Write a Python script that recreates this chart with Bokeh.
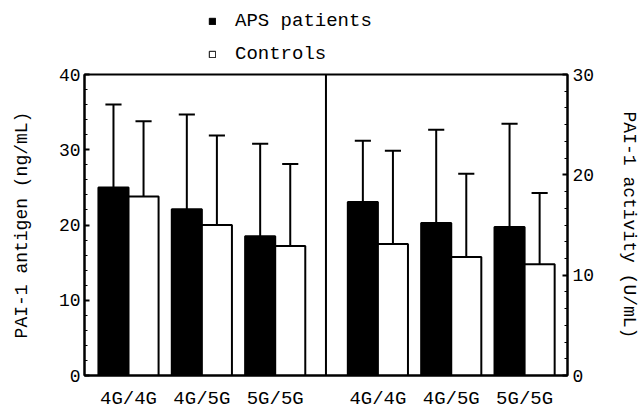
from bokeh.plotting import figure
from bokeh.layouts import column
from bokeh.models import (Range1d, LinearAxis, SingleIntervalTicker, FixedTicker,
                          Span, Legend, LegendItem)
from bokeh.embed import file_html
from bokeh.resources import INLINE

# ---- data ----
genotypes = ["4G/4G", "4G/5G", "5G/5G"]
antigen_aps = [25.0, 22.1, 18.5]        # ng/mL
antigen_aps_sd = [11.0, 12.6, 12.3]
antigen_ctrl = [23.8, 20.0, 17.2]
antigen_ctrl_sd = [10.0, 11.9, 10.9]
activity_aps = [17.3, 15.2, 14.8]       # U/mL
activity_aps_sd = [6.1, 9.3, 10.3]
activity_ctrl = [13.1, 11.8, 11.1]
activity_ctrl_sd = [9.3, 8.3, 7.1]
series_names = ["APS patients", "Controls"]
left_ticks = [0, 10, 20, 30, 40]
right_ticks = [0, 10, 20, 30]

# ---- layout constants ----
FONT = "Liberation Mono"
FS = "18px"
FS_X = "19px"
W = 642
LEG_H = 66
MAIN_H = 346
left_pos = [0.6, 1.6, 2.6]
right_pos = [4.0, 5.0, 6.0]
divider = 3.292
BW = 0.41
CAP = 0.11

# ---------------- legend strip (top) ----------------
# the strip's ranges lie far from the data, so its bars stay out of view:
# they only provide the legend swatches
top = figure(width=W, height=LEG_H, output_backend="svg", toolbar_location=None,
             x_range=Range1d(1000, 1001), y_range=Range1d(1000, 1001),
             min_border=0, outline_line_color=None)
top.axis.visible = False
top.grid.visible = False
top.border_fill_color = "white"
lr_aps = top.vbar(x=left_pos, top=antigen_aps, bottom=0, width=BW,
                  fill_color="black", line_color="black", line_width=1)
lr_ctrl = top.vbar(x=left_pos, top=antigen_ctrl, bottom=0, width=BW,
                   fill_color="white", line_color="black", line_width=1)
legend = Legend(items=[LegendItem(label=series_names[0], renderers=[lr_aps]),
                       LegendItem(label=series_names[1], renderers=[lr_ctrl])],
                location=(124, 1), orientation="vertical",
                border_line_color=None, background_fill_alpha=0,
                label_text_font=FONT, label_text_font_size=FS_X,
                label_text_color="black",
                glyph_width=8, glyph_height=8, label_standoff=19,
                label_height=22, spacing=11, padding=0, margin=0)
top.add_layout(legend)

# ---------------- main chart ----------------
p = figure(width=W, height=MAIN_H, output_backend="svg", toolbar_location=None,
           x_range=Range1d(0, 6.585), y_range=Range1d(left_ticks[0], left_ticks[-1]),
           min_border_left=84, min_border_right=74, min_border_top=8, min_border_bottom=34)
p.extra_y_ranges = {"act": Range1d(right_ticks[0], right_ticks[-1])}
p.xgrid.visible = False
p.ygrid.visible = False
p.outline_line_color = "black"
p.outline_line_width = 2
p.background_fill_color = "white"
p.border_fill_color = "white"


def bars(pos, vals, sds, offset, color, rng="default"):
    xs = [c + offset for c in pos]
    r = p.vbar(x=xs, top=vals, bottom=0, width=BW, fill_color=color,
               line_color="black", line_width=2, y_range_name=rng)
    tops = [v + s for v, s in zip(vals, sds)]
    p.segment(x0=xs, y0=vals, x1=xs, y1=tops, line_color="black", line_width=2,
              y_range_name=rng)
    p.segment(x0=[x - CAP for x in xs], y0=tops, x1=[x + CAP for x in xs], y1=tops,
              line_color="black", line_width=2, y_range_name=rng)
    return r


bars(left_pos, antigen_aps, antigen_aps_sd, -BW / 2, "black")
bars(left_pos, antigen_ctrl, antigen_ctrl_sd, BW / 2, "white")
bars(right_pos, activity_aps, activity_aps_sd, -BW / 2, "black", "act")
bars(right_pos, activity_ctrl, activity_ctrl_sd, BW / 2, "white", "act")

p.add_layout(Span(location=divider, dimension="height", line_color="black", line_width=2))


def style_axis(ax):
    ax.axis_line_width = 2
    ax.axis_line_color = "black"
    ax.major_tick_line_width = 2
    ax.minor_tick_line_width = 1
    ax.major_tick_out = 0
    ax.minor_tick_out = 0
    ax.major_label_text_font = FONT
    ax.major_label_text_font_size = FS
    ax.major_label_text_color = "black"
    ax.axis_label_text_font = FONT
    ax.axis_label_text_font_size = FS
    ax.axis_label_text_font_style = "normal"
    ax.axis_label_text_color = "black"


ya = p.yaxis[0]
ya.ticker = SingleIntervalTicker(interval=10, num_minor_ticks=5)
ya.axis_label = "PAI-1 antigen (ng/mL)"
style_axis(ya)
ya.major_tick_in = 5
ya.minor_tick_in = 3
ya.major_label_standoff = 4
ya.axis_label_standoff = 24

ra = LinearAxis(y_range_name="act", ticker=SingleIntervalTicker(interval=10, num_minor_ticks=6),
                axis_label="PAI-1 activity (U/mL)")
style_axis(ra)
ra.major_tick_in = 5
ra.minor_tick_in = 3
ra.major_label_standoff = 5
ra.axis_label_standoff = 22
p.add_layout(ra, "right")

xa = p.xaxis[0]
xa.ticker = FixedTicker(ticks=left_pos + right_pos)
xa.major_label_overrides = {t: g for t, g in zip(left_pos + right_pos, genotypes + genotypes)}
style_axis(xa)
xa.major_label_text_font_size = FS_X
xa.major_tick_in = 0
xa.minor_tick_line_color = None
xa.major_tick_line_color = None
xa.major_label_standoff = 12

layout = column(top, p, spacing=0)
open("out.html", "w").write(file_html(layout, INLINE))
